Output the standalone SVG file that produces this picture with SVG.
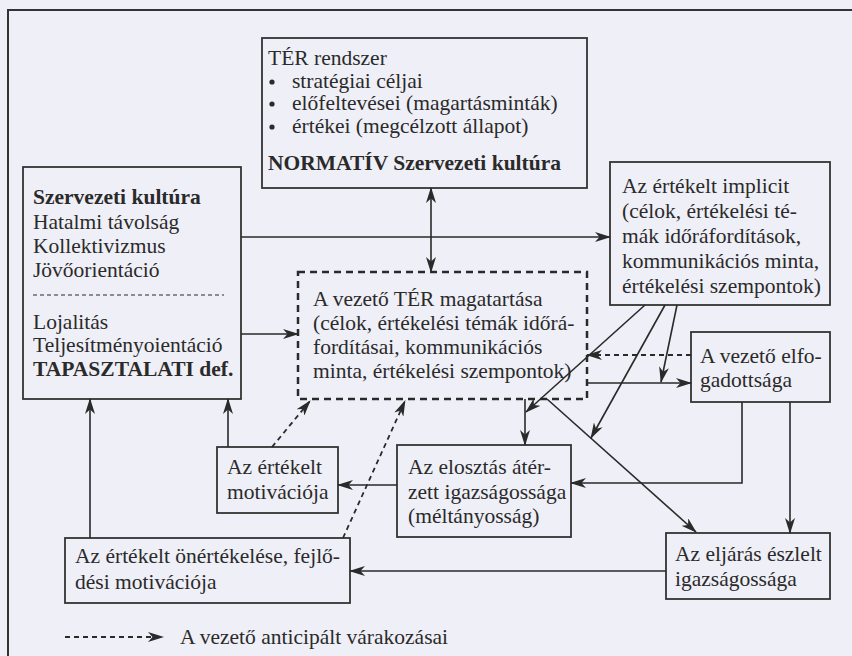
<svg xmlns="http://www.w3.org/2000/svg" width="852" height="656" viewBox="0 0 852 656">
<defs>
<marker id="ah" viewBox="0 0 16 10" refX="15" refY="5" markerWidth="16" markerHeight="10" markerUnits="userSpaceOnUse" orient="auto-start-reverse">
<path d="M0,0 L16,5 L0,10 L4.5,5 z" fill="#2a2a2a"/>
</marker>
</defs>
<style>
text{font-family:"Liberation Serif","Times New Roman",serif;font-size:21.5px;fill:#2a2a2a}
.b{font-weight:bold}
.box{fill:none;stroke:#333;stroke-width:1.8}
.dbox{fill:none;stroke:#2a2a2a;stroke-width:2.5;stroke-dasharray:7 5}
.c{fill:none;stroke:#2a2a2a;stroke-width:1.6}
.cd{fill:none;stroke:#2a2a2a;stroke-width:1.8;stroke-dasharray:5 4}
.a{marker-end:url(#ah)}
</style>
<rect width="852" height="656" fill="#efeff7"/>
<path d="M8,656 V10 H852" fill="none" stroke="#333" stroke-width="2"/>

<g id="ter">
<rect class="box" x="262" y="38" width="325" height="150"/>
<text x="268" y="65">TÉR rendszer</text>
<circle cx="272" cy="82" r="2.6" fill="#2a2a2a"/>
<text x="292" y="88">stratégiai céljai</text>
<circle cx="272" cy="104" r="2.6" fill="#2a2a2a"/>
<text x="292" y="110">előfeltevései (magartásminták)</text>
<circle cx="272" cy="127" r="2.6" fill="#2a2a2a"/>
<text x="292" y="133">értékei (megcélzott állapot)</text>
<text class="b" x="268" y="170">NORMATÍV Szervezeti kultúra</text>
</g>

<g id="kultura">
<rect class="box" x="23" y="167" width="218" height="232"/>
<text class="b" x="33" y="204">Szervezeti kultúra</text>
<text x="33" y="229">Hatalmi távolság</text>
<text x="33" y="253">Kollektivizmus</text>
<text x="33" y="277">Jövőorientáció</text>
<line x1="33" y1="295" x2="224" y2="295" stroke="#2a2a2a" stroke-width="1.2" stroke-dasharray="4 3"/>
<text x="33" y="329">Lojalitás</text>
<text x="33" y="352">Teljesítményoientáció</text>
<text class="b" x="33" y="376">TAPASZTALATI def.</text>
</g>

<g id="implicit">
<rect class="box" x="610" y="162" width="220" height="143"/>
<text x="622" y="193">Az értékelt implicit</text>
<text x="622" y="218">(célok, értékelési té-</text>
<text x="622" y="243">mák időráfordítások,</text>
<text x="622" y="268">kommunikációs minta,</text>
<text x="622" y="293">értékelési szempontok)</text>
</g>

<g id="magatartas">
<rect class="dbox" x="298" y="272" width="289" height="127"/>
<text x="313" y="306">A vezető TÉR magatartása</text>
<text x="313" y="330">(célok, értékelési témák időrá-</text>
<text x="313" y="354">fordításai, kommunikációs</text>
<text x="313" y="378">minta, értékelési szempontok)</text>
</g>

<g id="elfogadottsag">
<rect class="box" x="691" y="332" width="139" height="70"/>
<text x="700" y="363">A vezető elfo-</text>
<text x="700" y="387">gadottsága</text>
</g>

<g id="motivacio">
<rect class="box" x="217" y="447" width="121" height="66"/>
<text x="227" y="474">Az értékelt</text>
<text x="227" y="499">motivációja</text>
</g>

<g id="elosztas">
<rect class="box" x="397" y="445" width="174" height="92"/>
<text x="408" y="474">Az elosztás átér-</text>
<text x="408" y="499">zett igazságossága</text>
<text x="408" y="523">(méltányosság)</text>
</g>

<g id="eljaras">
<rect class="box" x="666" y="533" width="164" height="66"/>
<text x="675" y="561">Az eljárás észlelt</text>
<text x="675" y="586">igazságossága</text>
</g>

<g id="onertekeles">
<rect class="box" x="65" y="538" width="285" height="65"/>
<text x="75" y="563">Az értékelt önértékelése, fejlő-</text>
<text x="75" y="589">dési motivációja</text>
</g>

<g id="connectors">
<line class="c" x1="431" y1="188" x2="431" y2="272" marker-start="url(#ah)" marker-end="url(#ah)"/>
<line class="c a" x1="241" y1="237" x2="610" y2="237"/>
<line class="c a" x1="241" y1="334" x2="298" y2="334"/>
<line class="c a" x1="228" y1="447" x2="228" y2="399"/>
<line class="c a" x1="90" y1="538" x2="90" y2="399"/>
<line class="cd a" x1="272" y1="447" x2="310" y2="401"/>
<line class="cd a" x1="343" y1="538" x2="405" y2="401"/>
<line class="c a" x1="397" y1="485" x2="338" y2="485"/>
<line class="c a" x1="666" y1="571" x2="350" y2="571"/>
<polyline class="c a" points="742,402 742,483 571,483"/>
<line class="c a" x1="790" y1="402" x2="790" y2="533"/>
<line class="c a" x1="587" y1="383" x2="691" y2="383"/>
<line class="cd a" x1="691" y1="355" x2="587" y2="355"/>
<line class="c a" x1="525" y1="399" x2="525" y2="445"/>
<line class="c a" x1="547" y1="399" x2="696" y2="532"/>
<line class="c a" x1="645" y1="305" x2="526" y2="412"/>
<line class="c a" x1="665" y1="305" x2="591" y2="438"/>
<line class="c a" x1="677" y1="305" x2="661" y2="382"/>
</g>

<g id="legend">
<line class="cd a" x1="65" y1="637" x2="163" y2="637"/>
<text x="180" y="644">A vezető anticipált várakozásai</text>
</g>
</svg>
